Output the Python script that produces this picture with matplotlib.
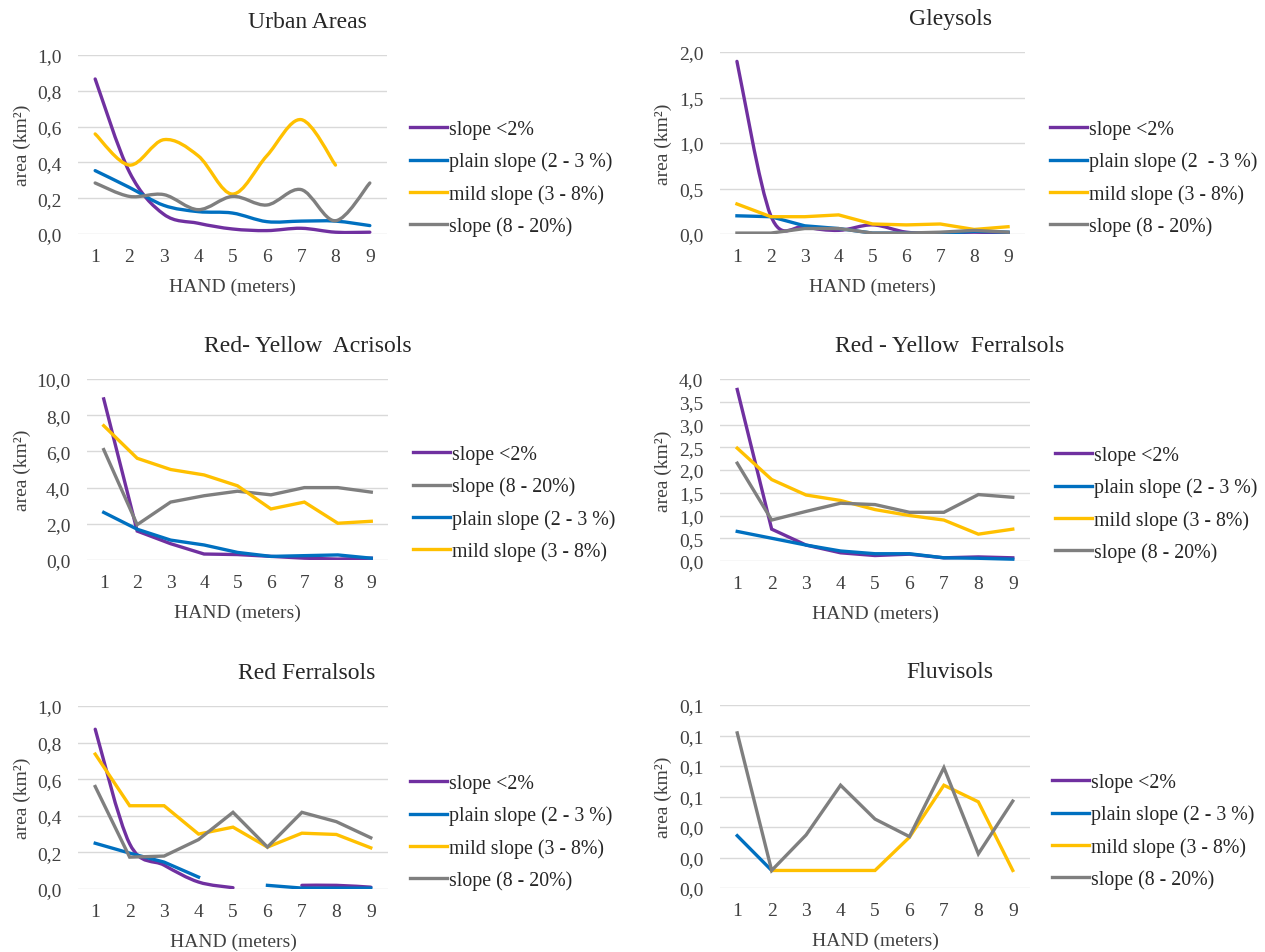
import numpy as np
import matplotlib
matplotlib.use("Agg")
import matplotlib.pyplot as plt
from matplotlib.path import Path
from matplotlib.patches import PathPatch
from matplotlib.lines import Line2D
from matplotlib.ticker import FuncFormatter

plt.rcParams['font.family'] = ['Liberation Serif', 'DejaVu Serif']

nan = np.nan
hand = [1, 2, 3, 4, 5, 6, 7, 8, 9]

# Urban Areas
urban_lt2 = [0.866, 0.345, 0.11, 0.06, 0.028, 0.019, 0.032, 0.01, 0.01]
urban_plain = [0.354, 0.26, 0.16, 0.125, 0.117, 0.069, 0.072, 0.072, 0.047]
urban_mild = [0.559, 0.385, 0.527, 0.437, 0.223, 0.437, 0.639, 0.385, nan]
urban_steep = [0.285, 0.21, 0.22, 0.136, 0.21, 0.162, 0.248, 0.074, 0.285]

# Gleysols
gley_lt2 = [1.897, 0.2, 0.08, 0.04, 0.1, 0.02, 0.01, 0.02, 0.01]
gley_plain = [0.2, 0.19, 0.09, 0.06, 0.01, 0.01, 0.005, 0.03, 0.02]
gley_mild = [0.33, 0.19, 0.19, 0.21, 0.11, 0.1, 0.11, 0.05, 0.08]
gley_steep = [0.01, 0.01, 0.06, 0.06, 0.01, 0.01, 0.02, 0.04, 0.02]

# Red-Yellow Acrisols
acri_lt2 = [8.9, 1.6, 0.9, 0.33, 0.3, 0.2, 0.1, 0.05, 0.1]
acri_steep = [6.1, 1.95, 3.2, 3.55, 3.8, 3.6, 4.0, 4.0, 3.75]
acri_plain = [2.63, 1.7, 1.1, 0.83, 0.42, 0.2, 0.24, 0.28, 0.1]
acri_mild = [7.42, 5.62, 5.0, 4.7, 4.1, 2.82, 3.2, 2.03, 2.14]

# Red-Yellow Ferralsols
ryf_lt2 = [3.77, 0.7, 0.35, 0.18, 0.12, 0.15, 0.07, 0.09, 0.07]
ryf_plain = [0.65, 0.5, 0.35, 0.22, 0.16, 0.16, 0.07, 0.06, 0.04]
ryf_mild = [2.48, 1.79, 1.45, 1.33, 1.13, 1.0, 0.9, 0.59, 0.70]
ryf_steep = [2.15, 0.9, 1.09, 1.27, 1.24, 1.07, 1.07, 1.46, 1.40]

# Red Ferralsols
rf_lt2 = [0.873, 0.247, 0.13, 0.038, 0.007, nan, 0.02, 0.02, 0.01]
rf_plain = [0.25, 0.196, 0.147, 0.065, nan, 0.02, 0.005, 0.005, 0.005]
rf_mild = [0.737, 0.455, 0.455, 0.3, 0.338, 0.229, 0.305, 0.298, 0.225]
rf_steep = [0.56, 0.174, 0.18, 0.27, 0.419, 0.229, 0.419, 0.368, 0.28]

# Fluvisols
flu_lt2 = [nan] * 9
flu_plain = [0.0343, 0.0115, nan, nan, nan, nan, nan, nan, nan]
flu_mild = [nan, 0.0115, 0.0115, 0.0115, 0.0115, 0.0333, 0.0674, 0.0565, 0.0115]
flu_steep = [0.1017, 0.0115, 0.0348, 0.0674, 0.0452, 0.0337, 0.0789, 0.0224, 0.057]

PURPLE, BLUE, YELLOW, GRAY = '#7030A0', '#0070C0', '#FFC000', '#7F7F7F'
LBL_LT2 = 'slope <2%'
LBL_PLAIN = 'plain slope (2 - 3 %)'
LBL_MILD = 'mild slope (3 - 8%)'
LBL_STEEP = 'slope (8 - 20%)'
LW = 2.4


def smooth_line(ax, x, y, color, zorder):
    # Excel-like smoothed line: Catmull-Rom as cubic Bezier, per non-NaN run
    x = np.asarray(x, float)
    y = np.asarray(y, float)
    ok = ~np.isnan(y)
    runs = []
    cur = []
    for i in range(len(y)):
        if ok[i]:
            cur.append(i)
        elif cur:
            runs.append(cur)
            cur = []
    if cur:
        runs.append(cur)
    for r in runs:
        px, py = x[r], y[r]
        n = len(px)
        if n == 1:
            continue
        verts = [(px[0], py[0])]
        codes = [Path.MOVETO]
        for i in range(n - 1):
            i0 = max(i - 1, 0)
            i3 = min(i + 2, n - 1)
            c1 = (px[i] + (px[i + 1] - px[i0]) / 6, py[i] + (py[i + 1] - py[i0]) / 6)
            c2 = (px[i + 1] - (px[i3] - px[i]) / 6, py[i + 1] - (py[i3] - py[i]) / 6)
            verts += [c1, c2, (px[i + 1], py[i + 1])]
            codes += [Path.CURVE4] * 3
        ax.add_patch(PathPatch(Path(verts, codes), fill=False, edgecolor=color,
                               lw=LW, capstyle='round', joinstyle='round', zorder=zorder))


def panel(rect, title, title_xy, ymax, ystep, series, smooth, leg_x, leg_y, ylab_x):
    ax = fig.add_axes([rect[0] / W, 1 - rect[3] / H, (rect[1] - rect[0]) / W, (rect[3] - rect[2]) / H])
    handles = []
    for k, (vals, color, label) in enumerate(series):
        if k in smooth:
            smooth_line(ax, hand, vals, color, 3 + k)
        else:
            ax.plot(hand, vals, color=color, lw=LW, solid_joinstyle='miter', zorder=3 + k)
        handles.append(Line2D([], [], color=color, lw=LW))
    ax.set_xlim(0.5, 9.5)
    ax.set_ylim(0, ymax)
    ax.set_yticks(np.arange(0, ymax + ystep / 2, ystep))
    ax.set_xticks(hand)
    ax.yaxis.set_major_formatter(FuncFormatter(lambda v, p: f"{v:.1f}".replace('.', ',')))
    ax.grid(axis='y', color='#D9D9D9', lw=1.0)
    ax.set_axisbelow(True)
    for s in ax.spines.values():
        s.set_visible(False)
    ax.tick_params(length=0, labelsize=14, colors='#404040')
    ax.tick_params(axis='y', pad=12)
    ax.tick_params(axis='x', pad=10)
    cx = (rect[0] + rect[1]) / 2
    fig.text(title_xy[0] / W, 1 - title_xy[1] / H, title, ha='center', va='center',
             fontsize=17, color='#262626')
    fig.text(cx / W, 1 - (rect[3] + 52) / H, 'HAND (meters)', ha='center', va='center',
             fontsize=14, color='#404040')
    fig.text(ylab_x / W, 1 - ((rect[2] + rect[3]) / 2) / H, 'area (km²)', rotation=90,
             ha='center', va='center', fontsize=14, color='#404040')
    fig.legend(handles, [s[2] for s in series], loc='center left',
               bbox_to_anchor=(leg_x / W, 1 - leg_y / H), frameon=False, fontsize=14.3,
               handlelength=1.85, handletextpad=0.1, labelspacing=0.62, borderpad=0,
               borderaxespad=0, labelcolor='#262626')
    return ax


W, H = 1265, 953
fig = plt.figure(figsize=(W / 100, H / 100), dpi=100)

panel((78, 387, 56, 235), 'Urban Areas', (307, 22), 1.0, 0.2,
      [(urban_lt2, PURPLE, LBL_LT2), (urban_plain, BLUE, LBL_PLAIN),
       (urban_mild, YELLOW, LBL_MILD), (urban_steep, GRAY, LBL_STEEP)],
      {0, 1, 2, 3}, 410, 179, 22)

panel((720, 1025, 53, 235), 'Gleysols', (950, 20), 2.0, 0.5,
      [(gley_lt2, PURPLE, LBL_LT2), (gley_plain, BLUE, 'plain slope (2  - 3 %)'),
       (gley_mild, YELLOW, LBL_MILD), (gley_steep, GRAY, LBL_STEEP)],
      {0}, 1050, 179, 663)

panel((87, 388, 380, 561), 'Red- Yellow  Acrisols', (308, 346), 10.0, 2.0,
      [(acri_lt2, PURPLE, LBL_LT2), (acri_steep, GRAY, LBL_STEEP),
       (acri_plain, BLUE, LBL_PLAIN), (acri_mild, YELLOW, LBL_MILD)],
      set(), 413, 504, 22)

panel((720, 1030, 380, 562), 'Red - Yellow  Ferralsols', (950, 346), 4.0, 0.5,
      [(ryf_lt2, PURPLE, LBL_LT2), (ryf_plain, BLUE, LBL_PLAIN),
       (ryf_mild, YELLOW, LBL_MILD), (ryf_steep, GRAY, LBL_STEEP)],
      set(), 1055, 505, 663)

panel((78, 388, 707, 890), 'Red Ferralsols', (307, 674), 1.0, 0.2,
      [(rf_lt2, PURPLE, LBL_LT2), (rf_plain, BLUE, LBL_PLAIN),
       (rf_mild, YELLOW, LBL_MILD), (rf_steep, GRAY, LBL_STEEP)],
      {0}, 410, 833, 22)

panel((720, 1030, 706, 889), 'Fluvisols', (950, 673), 0.12, 0.02,
      [(flu_lt2, PURPLE, LBL_LT2), (flu_plain, BLUE, LBL_PLAIN),
       (flu_mild, YELLOW, LBL_MILD), (flu_steep, GRAY, LBL_STEEP)],
      set(), 1052, 832, 663)

fig.savefig('out.png', dpi=100, facecolor='white')
